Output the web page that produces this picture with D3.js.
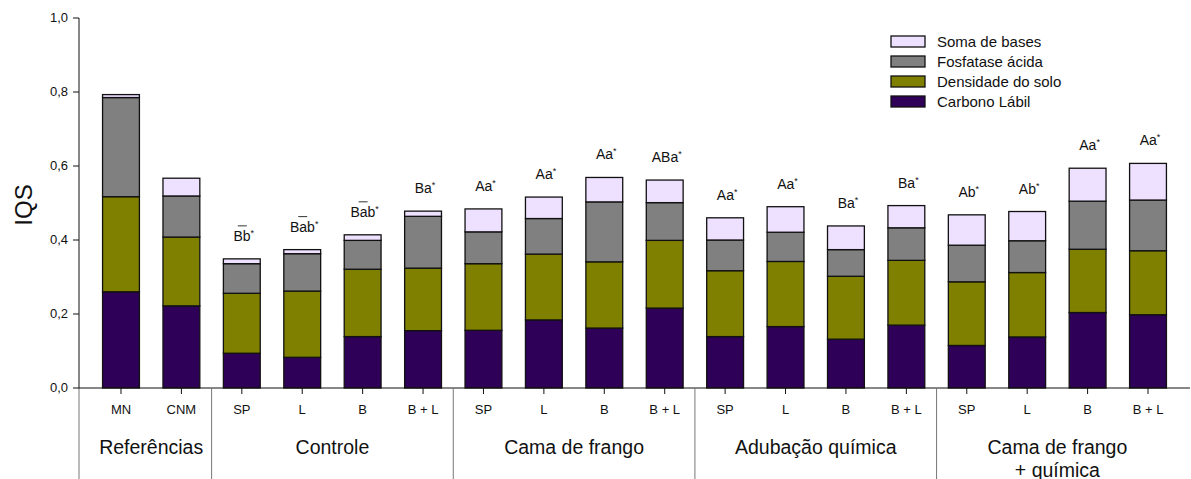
<!DOCTYPE html>
<html><head><meta charset="utf-8">
<script src="https://cdn.jsdelivr.net/npm/d3@7"></script>
<style>body{margin:0;background:#fff}svg{display:block;font-family:"Liberation Sans",Arial,sans-serif}</style>
</head><body><svg id="c" width="1191" height="479"></svg>
<script>
const categories = ["MN","CNM","SP","L","B","B + L","SP","L","B","B + L","SP","L","B","B + L","SP","L","B","B + L"];
const groups = [["Referências"],["Controle"],["Cama de frango"],["Adubação química"],["Cama de frango","+ química"]];
const groupSizes = [2,4,4,4,4];
const carbono   = [0.260,0.222,0.094,0.083,0.139,0.155,0.156,0.184,0.162,0.216,0.139,0.166,0.132,0.170,0.115,0.138,0.204,0.198];
const densidade = [0.257,0.186,0.162,0.179,0.182,0.169,0.180,0.178,0.179,0.183,0.178,0.176,0.170,0.175,0.172,0.174,0.171,0.173];
const fosfatase = [0.268,0.111,0.080,0.101,0.078,0.140,0.086,0.096,0.162,0.102,0.083,0.079,0.072,0.088,0.099,0.086,0.130,0.137];
const soma      = [0.008,0.048,0.013,0.011,0.015,0.014,0.062,0.058,0.066,0.061,0.060,0.069,0.064,0.060,0.082,0.079,0.089,0.099];
const letters   = ["","","Bb","Bab","Bab","Ba","Aa","Aa","Aa","ABa","Aa","Aa","Ba","Ba","Ab","Ab","Aa","Aa"];
const overbar   = [false,false,true,true,true,false,false,false,false,false,false,false,false,false,false,false,false,false];
const yTicks = [0,0.2,0.4,0.6,0.8,1.0];
const seriesNames = ["Carbono Lábil","Densidade do solo","Fosfatase ácida","Soma de bases"];
const colors = ["#2e0057","#808000","#808080","#eee0ff"];

const svg = d3.select("#c");
const x0 = 79, x1 = 1190, yBase = 388, yTop = 18;
const ids = categories.map((c,i)=>i);
const x = d3.scaleBand().domain(ids).range([x0,x1]).paddingInner(0.39).paddingOuter(0.39);
const y = d3.scaleLinear().domain([0,1]).range([yBase,yTop]);

const rows = ids.map(i=>({i, s0:carbono[i], s1:densidade[i], s2:fosfatase[i], s3:soma[i]}));
const stack = d3.stack().keys(["s0","s1","s2","s3"])(rows);

svg.append("g").selectAll("g").data(stack).join("g")
  .attr("fill",(d,k)=>colors[k])
  .selectAll("rect").data(d=>d).join("rect")
  .attr("x",d=>x(d.data.i)).attr("width",x.bandwidth())
  .attr("y",d=>y(d[1])).attr("height",d=>y(d[0])-y(d[1]))
  .attr("stroke","#111").attr("stroke-width",1.3);

// annotations
const ann = svg.append("g").attr("font-size",14).attr("fill","#111").attr("text-anchor","middle");
ids.forEach(i=>{
  if(!letters[i]) return;
  const tot = carbono[i]+densidade[i]+fosfatase[i]+soma[i];
  const cx = x(i)+x.bandwidth()/2;
  const by = y(tot)-18;
  const t = ann.append("text").attr("x",cx+2).attr("y",by);
  t.append("tspan").text(letters[i]);
  t.append("tspan").attr("font-size",9).attr("dy",-5).text("*");
  if(overbar[i]) svg.append("line").attr("x1",cx-4).attr("x2",cx+5).attr("y1",by-15).attr("y2",by-15).attr("stroke","#333").attr("stroke-width",1);
});

// y axis
svg.append("line").attr("x1",x0).attr("x2",x0).attr("y1",yTop).attr("y2",yBase).attr("stroke","#111");
svg.append("line").attr("x1",x0).attr("x2",x0).attr("y1",yBase).attr("y2",479).attr("stroke","#777");
const yt = svg.append("g");
yTicks.forEach(v=>{
  yt.append("line").attr("x1",x0-6).attr("x2",x0).attr("y1",y(v)).attr("y2",y(v)).attr("stroke","#111");
  yt.append("text").attr("x",x0-11).attr("y",y(v)+4).attr("text-anchor","end").attr("font-size",13).attr("fill","#111")
    .text(d3.format(".1f")(v).replace(".",","));
});
svg.append("text").attr("transform",`translate(32,${y(0.5)+2}) rotate(-90)`).attr("text-anchor","middle")
  .attr("font-size",24).attr("fill","#111").text("IQS");

// x axis
svg.append("line").attr("x1",x0).attr("x2",x1).attr("y1",yBase).attr("y2",yBase).attr("stroke","#111").attr("stroke-width",1.2);
ids.forEach(i=>{
  const cx = x(i)+x.bandwidth()/2;
  svg.append("line").attr("x1",cx).attr("x2",cx).attr("y1",yBase).attr("y2",yBase+6).attr("stroke","#111");
  svg.append("text").attr("x",cx).attr("y",yBase+26).attr("text-anchor","middle").attr("font-size",13).attr("fill","#111").text(categories[i]);
});
// group separators & labels
let start = 0;
groups.forEach((g,gi)=>{
  const end = start+groupSizes[gi]-1;
  const left = x(start)+x.bandwidth()/2, right = x(end)+x.bandwidth()/2;
  const mid = (left+right)/2;
  g.forEach((line,li)=>{
    svg.append("text").attr("x",mid).attr("y",yBase+66+li*23).attr("text-anchor","middle").attr("font-size",19.5).attr("fill","#111").text(line);
  });
  if(gi<groups.length-1){
    const sx = (x(end)+x.bandwidth()+x(end+1))/2;
    svg.append("line").attr("x1",sx).attr("x2",sx).attr("y1",yBase).attr("y2",479).attr("stroke","#777");
  }
  start = end+1;
});

// legend
const lg = svg.append("g").attr("transform","translate(891,36)");
[3,2,1,0].forEach((k,r)=>{
  lg.append("rect").attr("x",0).attr("y",r*20).attr("width",34).attr("height",11).attr("fill",colors[k]).attr("stroke","#111").attr("stroke-width",1.3);
  lg.append("text").attr("x",46).attr("y",r*20+11).attr("font-size",15).attr("fill","#111").text(seriesNames[k]);
});
</script></body></html>
